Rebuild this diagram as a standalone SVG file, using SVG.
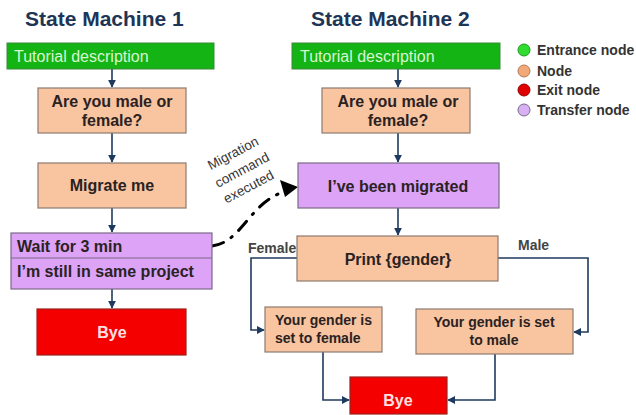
<svg xmlns="http://www.w3.org/2000/svg" width="636" height="415" viewBox="0 0 636 415">
  <style>
    .title { font-family: "Liberation Sans", Arial, sans-serif; font-weight: bold; font-size: 21px; fill: #1d3557; }
    .lbl { font-family: "Liberation Sans", Arial, sans-serif; font-weight: bold; font-size: 16px; fill: #2a2222; }
    .sm { font-size: 14px; }
    .mid { text-anchor: middle; }
    .entry rect { fill: #14b414; stroke: #3a8a3a; stroke-width: 1; }
    .entry text { font-family: "Liberation Sans", Arial, sans-serif; font-size: 16px; fill: #d6f7d2; }
    .node rect { fill: #f9c4a0; stroke: #8c7a70; stroke-width: 1.2; }
    .xfer rect { fill: #dca3f7; stroke: #7a6a86; stroke-width: 1.2; }
    .exit rect { fill: #f40000; stroke: #9a2020; stroke-width: 1.2; }
    .exit text { fill: #ffe0e0; }
    .edge { fill: none; stroke: #1f3a5f; stroke-width: 1.6; }
    .cap { font-family: "Liberation Sans", Arial, sans-serif; font-weight: bold; font-size: 14px; fill: #444; }
    .legend text { font-family: "Liberation Sans", Arial, sans-serif; font-weight: bold; font-size: 14px; fill: #333; }
    .note { font-family: "Liberation Sans", Arial, sans-serif; font-size: 13.5px; fill: #333; }
  </style>
  <defs>
    <marker id="arr" viewBox="0 0 10 10" refX="9" refY="5" markerWidth="5" markerHeight="5" orient="auto">
      <path d="M0,0 L10,5 L0,10 z" fill="#1f3a5f"/>
    </marker>
  </defs>
  <rect width="636" height="415" fill="#fff"/>

  <text class="title" x="25" y="26">State Machine 1</text>
  <text class="title" x="311" y="26">State Machine 2</text>

  <!-- connectors -->
  <g id="connectors">
    <path class="edge" d="M112,69 V87" marker-end="url(#arr)"/>
    <path class="edge" d="M112,133 V162" marker-end="url(#arr)"/>
    <path class="edge" d="M112,208 V232" marker-end="url(#arr)"/>
    <path class="edge" d="M112,289 V308" marker-end="url(#arr)"/>

    <path class="edge" d="M398,69 V87" marker-end="url(#arr)"/>
    <path class="edge" d="M398,133 V162" marker-end="url(#arr)"/>
    <path class="edge" d="M398,208 V235" marker-end="url(#arr)"/>
    <path class="edge" d="M297,258 H251 V330 H264" marker-end="url(#arr)"/>
    <path class="edge" d="M498,258 H588 V332 H574" marker-end="url(#arr)"/>
    <path class="edge" d="M323,352 V400 H349" marker-end="url(#arr)"/>
    <path class="edge" d="M495,354 V400 H448" marker-end="url(#arr)"/>

    <!-- migration jump between machines -->
    <path d="M212,246 C242,242 248,205 283,192" fill="none" stroke="#000" stroke-width="3" stroke-dasharray="12 9 1.5 9" stroke-linecap="round"/>
    <path d="M298,187 L280,180 L285,197 z" fill="#000"/>
    <g class="note" transform="translate(242,170) rotate(-28)">
      <text class="mid" x="0" y="-14.5">Migration</text>
      <text class="mid" x="0" y="4.5">command</text>
      <text class="mid" x="-2" y="22.5">executed</text>
    </g>
  </g>

  <g id="sm1-start" class="entry">
    <rect x="7" y="43" width="207" height="26"/>
    <text x="14" y="62">Tutorial description</text>
  </g>
  <g id="sm1-ask" class="node">
    <rect x="38" y="88" width="148" height="45"/>
    <text class="lbl mid" x="112" y="107">Are you male or</text>
    <text class="lbl mid" x="112" y="126">female?</text>
  </g>
  <g id="sm1-migrate" class="node">
    <rect x="38" y="163" width="148" height="45"/>
    <text class="lbl mid" x="112" y="191">Migrate me</text>
  </g>
  <g id="sm1-wait" class="xfer">
    <rect x="11" y="233" width="201" height="56"/>
    <line x1="11" y1="258" x2="212" y2="258" stroke="#7a6a86" stroke-width="1.2"/>
    <text class="lbl" x="17" y="252">Wait for 3 min</text>
    <text class="lbl" x="17" y="277">I’m still in same project</text>
  </g>
  <g id="sm1-bye" class="exit">
    <rect x="37" y="309" width="149" height="46"/>
    <text class="lbl mid" x="112" y="338">Bye</text>
  </g>

  <g id="sm2-start" class="entry">
    <rect x="292" y="43" width="208" height="26"/>
    <text x="300" y="62">Tutorial description</text>
  </g>
  <g id="sm2-ask" class="node">
    <rect x="322" y="88" width="148" height="45"/>
    <text class="lbl mid" x="398" y="107">Are you male or</text>
    <text class="lbl mid" x="398" y="126">female?</text>
  </g>
  <g id="sm2-migrated" class="xfer">
    <rect x="298" y="163" width="201" height="45"/>
    <text class="lbl mid" x="398" y="192">I’ve been migrated</text>
  </g>
  <g id="sm2-print" class="node">
    <rect x="297" y="236" width="201" height="45"/>
    <text class="lbl mid" x="398" y="265">Print {gender}</text>
  </g>
  <text class="cap" x="248" y="253">Female</text>
  <text class="cap" x="518" y="250">Male</text>
  <g id="sm2-female" class="node">
    <rect x="265" y="307" width="117" height="45"/>
    <text class="lbl sm" x="275" y="325">Your gender is</text>
    <text class="lbl sm" x="275" y="343">set to female</text>
  </g>
  <g id="sm2-male" class="node">
    <rect x="416" y="309" width="157" height="45"/>
    <text class="lbl sm mid" x="494" y="327">Your gender is set</text>
    <text class="lbl sm mid" x="494" y="345">to male</text>
  </g>
  <g id="sm2-bye" class="exit">
    <rect x="350" y="377" width="97" height="37"/>
    <text class="lbl mid" x="398" y="406">Bye</text>
  </g>

  <g id="legend" class="legend">
    <circle cx="524" cy="50" r="6" fill="#2fdc2f" stroke="#1a9a1a" stroke-width="1"/>
    <text x="537" y="55">Entrance node</text>
    <circle cx="524" cy="71" r="6" fill="#f2a878" stroke="#b07a58" stroke-width="1"/>
    <text x="537" y="76">Node</text>
    <circle cx="524" cy="90" r="6" fill="#e00000" stroke="#900" stroke-width="1"/>
    <text x="537" y="95">Exit node</text>
    <circle cx="524" cy="110" r="6" fill="#d8b0f4" stroke="#7a6a86" stroke-width="1"/>
    <text x="537" y="115">Transfer node</text>
  </g>
</svg>
